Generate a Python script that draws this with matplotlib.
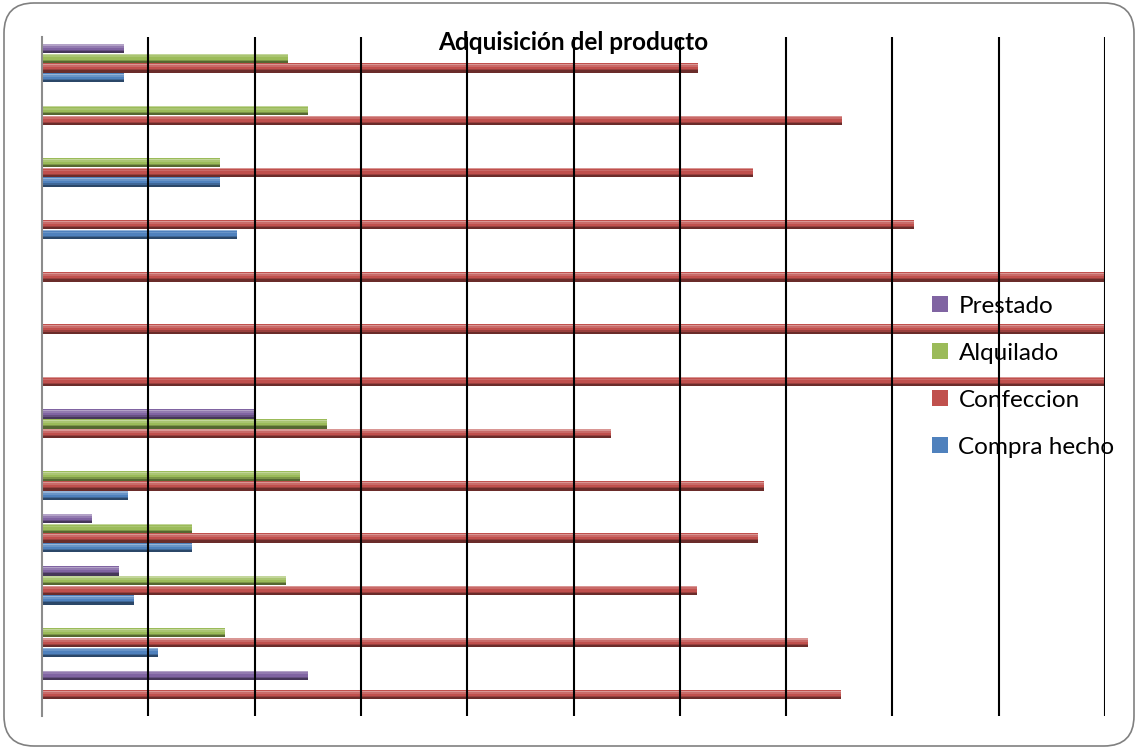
import numpy as np
import matplotlib.pyplot as plt
from matplotlib.patches import FancyBboxPatch
from matplotlib.colors import to_rgb

# 13 groups, top to bottom (no category labels shown in the chart)
groups = list(range(13))
series = ["Prestado", "Alquilado", "Confeccion", "Compra hecho"]
colors = ["#8064A2", "#9BBB59", "#C0504D", "#4F81BD"]

prestado = [0.077, 0.0, 0.0, 0.0, 0.0, 0.0, 0.0, 0.201, 0.0, 0.047, 0.072, 0.0, 0.25]
alquilado = [0.231, 0.25, 0.167, 0.0, 0.0, 0.0, 0.0, 0.268, 0.243, 0.141, 0.230, 0.172, 0.0]
confeccion = [0.617, 0.753, 0.669, 0.820, 1.0, 1.0, 1.0, 0.535, 0.679, 0.674, 0.616, 0.721, 0.752]
compra_hecho = [0.077, 0.0, 0.167, 0.183, 0.0, 0.0, 0.0, 0.0, 0.081, 0.141, 0.087, 0.109, 0.0]

values = [prestado, alquilado, confeccion, compra_hecho]


def shade(c, f):
    r = np.array(to_rgb(c))
    if f > 0:
        return tuple(r + (1 - r) * f)
    return tuple(r * (1 + f))


fig = plt.figure(figsize=(11.38, 7.49), dpi=100)
ax = fig.add_axes([42 / 1138, 1 - 716 / 749, 1063 / 1138, 679 / 749])

y = np.arange(len(groups))
step = 0.186
h = 0.18
offsets = [-1.5 * step, -0.5 * step, 0.5 * step, 1.5 * step]

for vals, col, off, name in zip(values, colors, offsets, series):
    vals = np.array(vals)
    mask = vals > 0
    yy = y[mask] + off
    vv = vals[mask]
    # body with a little cylinder shading
    ax.barh(yy, vv, height=h, color=col, linewidth=0, zorder=2)
    ax.barh(yy - h * 0.38, vv, height=h * 0.12, color=shade(col, 0.4), linewidth=0, zorder=2.1)
    ax.barh(yy - h * 0.2, vv, height=h * 0.2, color=shade(col, 0.15), linewidth=0, zorder=2.1)
    ax.barh(yy + h * 0.2, vv, height=h * 0.12, color=shade(col, -0.2), linewidth=0, zorder=2.1)
    ax.barh(yy + h * 0.38, vv, height=h * 0.24, color=shade(col, -0.45), linewidth=0, zorder=2.1)
    ax.barh([0], [0], color=col, label=name)

ax.set_xlim(0, 1)
ax.set_ylim(12.5, -0.5)

for gx in np.arange(0.1, 1.01, 0.1):
    ax.axvline(gx, color="black", linewidth=1.5, zorder=5)

for s in ["top", "right", "bottom"]:
    ax.spines[s].set_visible(False)
ax.spines["left"].set_color("#8c8c8c")
ax.spines["left"].set_linewidth(1.5)
ax.set_xticks([])
ax.set_yticks([])
ax.patch.set_alpha(0)

leg = ax.legend(loc="upper left",
                bbox_to_anchor=(880 / 1063, 1 - 249 / 679), frameon=False,
                prop={"family": "Lato", "size": 17.5}, handlelength=0.65, handleheight=0.65,
                handletextpad=0.45, labelspacing=1.07, borderaxespad=0)
leg.set_zorder(3)

fig.text(573 / 1138, 1 - 42 / 749, "Adquisición del producto", ha="center", va="center",
         fontsize=17.5, fontweight="bold", family="Lato")

frame = FancyBboxPatch((4 / 100, 3 / 100), 1130 / 100, 743 / 100,
                       boxstyle="round,pad=0,rounding_size=0.3",
                       transform=fig.dpi_scale_trans, facecolor="none",
                       edgecolor="#808080", linewidth=1.2)
fig.patches.append(frame)

fig.savefig("out.png", dpi=100)
